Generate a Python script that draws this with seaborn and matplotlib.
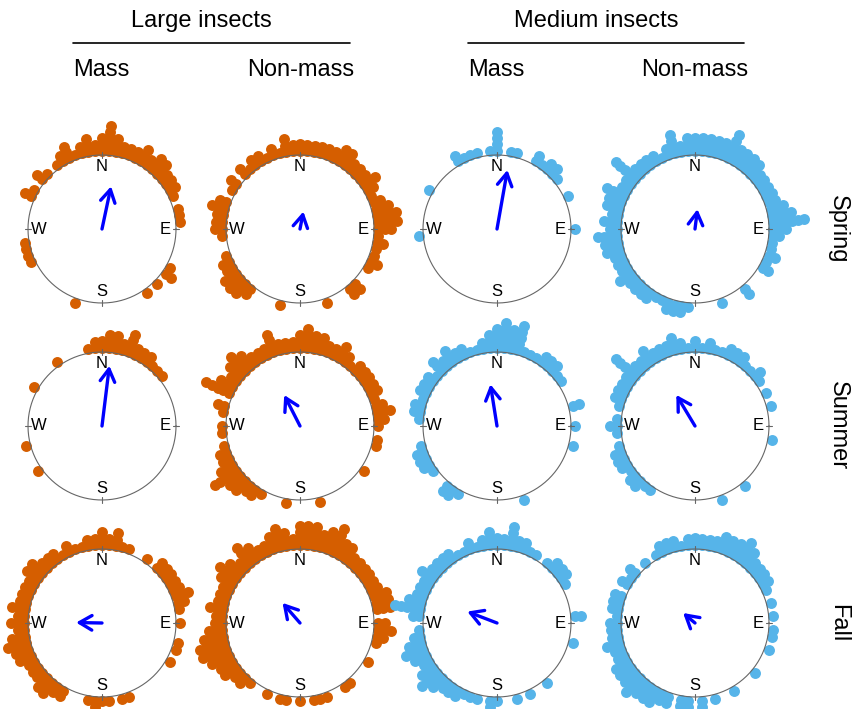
import numpy as np
import pandas as pd
import matplotlib
matplotlib.use("Agg")
import matplotlib.pyplot as plt
import seaborn as sns
from matplotlib.patches import FancyArrowPatch
from matplotlib.lines import Line2D

sns.set_theme(style="white")
plt.rcParams["font.family"] = ["Liberation Sans", "DejaVu Sans"]
plt.rcParams["text.color"] = "black"

# ---------------- data ----------------
groups = ["Large insects", "Medium insects"]
types = ["Mass", "Non-mass"]
seasons = ["Spring", "Summer", "Fall"]
compass = ["N", "E", "S", "W"]
compass_deg = [0, 90, 180, 270]

# Each panel: bin direction (degrees clockwise from North) and number of stacked points
LM_spring_deg = [0, 5, 10, 15, 20, 25, 30, 35, 40, 45, 50, 55, 60, 65, 75, 80, 85, 120, 125, 135, 145, 200,
                 245, 250, 255, 260, 295, 300, 310, 315, 325, 330, 335, 340, 345, 350, 355]
LM_spring_n = [3, 5, 3, 2, 2, 2, 3, 2, 3, 3, 2, 2, 2, 1, 1, 1, 1, 1, 2, 1, 1, 1,
               1, 1, 1, 1, 2, 1, 2, 1, 1, 2, 3, 1, 2, 3, 2]

LN_spring_deg = [350, 355, 0, 5, 10, 15, 20, 25, 30, 35, 40, 45, 50, 55, 60, 65, 70, 75, 80, 85, 90, 95, 100,
                 105, 110, 115, 120, 135, 140, 160, 195, 220, 225, 230, 235, 240, 245, 250, 265, 270, 275,
                 280, 285, 290, 300, 305, 315, 320, 325, 330, 335, 340, 345]
LN_spring_n = [3, 2, 2, 2, 2, 2, 2, 2, 3, 3, 2, 2, 2, 3, 2, 1, 2, 3, 4, 4, 3, 1, 2,
               1, 1, 2, 1, 2, 2, 1, 1, 2, 3, 3, 3, 2, 2, 1, 1, 2, 2,
               2, 3, 2, 1, 2, 2, 1, 2, 2, 1, 2, 1]

MM_spring_deg = [0, 10, 15, 30, 35, 40, 45, 50, 65, 90, 265, 300, 330, 335, 340, 345, 355]
MM_spring_n = [4, 1, 1, 2, 1, 2, 2, 1, 1, 1, 1, 1, 2, 1, 1, 1, 1]

MN_spring_deg = [350, 355, 0, 5, 10, 15, 20, 25, 30, 35, 40, 45, 50, 55, 60, 65, 70, 75, 80, 85, 90, 95,
                 100, 105, 110, 115, 120, 140, 160, 185, 190, 195, 200, 205, 210, 215, 220, 225, 230,
                 235, 240, 245, 250, 255, 260, 265, 270, 275, 280, 285, 290, 295, 300, 305, 310, 315,
                 320, 325, 330, 335, 340, 345]
MN_spring_n = [2, 3, 3, 3, 3, 3, 3, 5, 3, 3, 3, 3, 2, 2, 2, 2, 2, 3, 4, 6, 3, 2,
               1, 1, 2, 1, 2, 2, 1, 1, 2, 2, 2, 1, 1, 2, 2, 2, 2,
               3, 2, 2, 2, 3, 3, 4, 2, 3, 2, 3, 3, 4, 2, 2, 5, 2,
               2, 2, 2, 1, 2, 4]

LM_summer_deg = [350, 355, 0, 5, 10, 15, 20, 25, 30, 35, 40, 45, 50, 235, 255, 300, 325]
LM_summer_n = [1, 2, 2, 3, 3, 2, 4, 2, 2, 2, 1, 1, 1, 1, 1, 1, 1]

LN_summer_deg = [340, 345, 350, 355, 0, 5, 10, 15, 20, 25, 30, 35, 40, 45, 50, 55, 60, 65, 70, 75, 80, 85,
                 90, 100, 105, 125, 165, 190, 210, 215, 220, 225, 230, 235, 240, 245, 250, 255, 265,
                 270, 280, 285, 295, 300, 305, 310, 315, 320, 325, 330, 335]
LN_summer_n = [4, 2, 2, 2, 3, 4, 3, 3, 2, 2, 3, 2, 1, 2, 2, 2, 2, 2, 1, 2, 3, 2,
               1, 1, 1, 1, 1, 1, 1, 2, 2, 3, 3, 5, 3, 2, 2, 1, 1,
               1, 1, 2, 5, 3, 2, 3, 4, 3, 2, 2, 2]

MM_summer_deg = [345, 350, 355, 0, 5, 10, 15, 20, 25, 30, 35, 40, 45, 50, 55, 75, 90, 105, 160, 210, 215,
                 220, 235, 240, 245, 250, 255, 275, 280, 285, 290, 295, 300, 305, 310, 315, 320, 325,
                 330, 335, 340]
MM_summer_n = [1, 2, 3, 4, 5, 4, 5, 1, 1, 1, 2, 2, 2, 1, 1, 2, 1, 1, 1, 1, 2,
               2, 1, 2, 2, 2, 1, 1, 2, 2, 1, 2, 2, 2, 1, 3, 2, 3,
               2, 2, 1]

MN_summer_deg = [320, 325, 330, 335, 340, 345, 350, 355, 0, 5, 10, 15, 20, 25, 30, 35, 40, 45, 50, 55, 65,
                 75, 100, 140, 160, 215, 220, 225, 230, 235, 240, 245, 250, 255, 265, 270, 275, 285,
                 290, 295, 300, 305, 310, 315]
MN_summer_n = [2, 3, 2, 2, 2, 3, 2, 1, 2, 1, 2, 1, 1, 2, 2, 2, 1, 1, 2, 1, 1,
               1, 1, 1, 1, 1, 1, 2, 2, 1, 2, 2, 2, 1, 1, 2, 1, 1,
               2, 2, 2, 2, 5, 2]

LM_fall_deg = [335, 340, 345, 350, 355, 0, 5, 10, 15, 20, 35, 45, 50, 55, 60, 65, 70, 75, 80, 90, 105, 110,
               120, 160, 165, 175, 180, 185, 190, 210, 215, 220, 225, 230, 235, 240, 245, 250, 255, 260,
               265, 270, 275, 280, 285, 290, 295, 300, 305, 310, 315, 320, 325, 330]
LM_fall_n = [2, 1, 1, 2, 2, 3, 2, 3, 1, 1, 1, 2, 2, 2, 2, 2, 3, 2, 1, 1, 1, 1,
             1, 1, 1, 1, 1, 2, 1, 2, 2, 3, 3, 2, 2, 2, 3, 3, 4, 3,
             2, 3, 2, 3, 2, 2, 2, 2, 3, 3, 2, 2, 2, 1]

LN_fall_deg = [340, 345, 350, 355, 0, 5, 10, 15, 20, 25, 30, 35, 40, 45, 50, 55, 60, 65, 70, 75, 80, 90,
               95, 100, 105, 120, 140, 145, 160, 165, 170, 180, 190, 195, 205, 220, 225, 230, 235, 240,
               245, 250, 255, 260, 265, 270, 275, 280, 285, 290, 295, 300, 305, 310, 315, 320, 325,
               330, 335]
LN_fall_n = [3, 4, 3, 2, 4, 4, 4, 3, 4, 5, 3, 3, 2, 2, 2, 2, 2, 2, 3, 3, 3, 2,
             3, 2, 1, 1, 1, 1, 1, 1, 1, 1, 1, 1, 1, 1, 2, 2, 3, 3,
             4, 5, 5, 4, 3, 2, 2, 3, 2, 2, 2, 3, 4, 3, 2, 4, 3,
             2, 2]

MM_fall_deg = [335, 340, 345, 350, 355, 0, 5, 10, 15, 20, 25, 30, 40, 45, 50, 55, 60, 85, 105, 140, 155,
               165, 180, 185, 195, 200, 205, 210, 215, 220, 225, 230, 235, 240, 245, 250, 255, 260, 265,
               275, 280, 285, 290, 295, 300, 305, 310, 315, 320, 325, 330]
MM_fall_n = [1, 2, 1, 2, 3, 2, 2, 4, 2, 2, 1, 1, 1, 2, 2, 2, 1, 2, 1, 1, 1,
             1, 1, 2, 1, 1, 1, 2, 2, 2, 3, 4, 3, 2, 3, 4, 3, 2, 1,
             2, 5, 3, 2, 2, 2, 3, 2, 2, 2, 2, 1]

MN_fall_deg = [345, 350, 355, 0, 5, 10, 15, 20, 25, 30, 35, 40, 45, 50, 55, 60, 65, 75, 85, 95, 100, 110,
               130, 150, 165, 175, 185, 190, 200, 205, 210, 215, 220, 225, 230, 235, 240, 245, 250, 255,
               260, 265, 270, 275, 280, 285, 290, 300, 305, 310, 320, 330, 335, 340]
MN_fall_n = [2, 1, 2, 2, 2, 2, 2, 3, 3, 3, 4, 3, 2, 2, 2, 2, 1, 1, 1, 1, 1, 1,
             1, 1, 1, 2, 2, 2, 2, 2, 3, 3, 3, 4, 3, 3, 3, 2, 2, 3,
             2, 2, 2, 1, 2, 2, 2, 2, 1, 2, 1, 1, 2, 2]

# mean resultant vectors (direction in degrees from North, length relative to circle radius)
spring_arrow_dir = [12, 11, 10, 7]
spring_arrow_len = [0.59, 0.24, 0.81, 0.27]
summer_arrow_dir = [7, 333, 351, 329]
summer_arrow_len = [0.82, 0.47, 0.57, 0.49]
fall_arrow_dir = [271, 319, 291, 310]
fall_arrow_len = [0.35, 0.36, 0.43, 0.21]

panel_deg = [[LM_spring_deg, LN_spring_deg, MM_spring_deg, MN_spring_deg],
             [LM_summer_deg, LN_summer_deg, MM_summer_deg, MN_summer_deg],
             [LM_fall_deg, LN_fall_deg, MM_fall_deg, MN_fall_deg]]
panel_n = [[LM_spring_n, LN_spring_n, MM_spring_n, MN_spring_n],
           [LM_summer_n, LN_summer_n, MM_summer_n, MN_summer_n],
           [LM_fall_n, LN_fall_n, MM_fall_n, MN_fall_n]]
arrow_dir = [spring_arrow_dir, summer_arrow_dir, fall_arrow_dir]
arrow_len = [spring_arrow_len, summer_arrow_len, fall_arrow_len]

# ---------------- layout ----------------
W, H = 857, 709
fig = plt.figure(figsize=(W / 100, H / 100), dpi=100)
col_cx = [102, 300, 497, 695]
row_cy = [229, 426, 623]
R_PX = 74.0
HALF = 100.0
lim = HALF / R_PX
colors = ["#D55E00", "#D55E00", "#56B4E9", "#56B4E9"]

for i in range(3):
    for j in range(4):
        cx, cy = col_cx[j], row_cy[i]
        ax = fig.add_axes([(cx - HALF) / W, (H - cy - HALF) / H, 2 * HALF / W, 2 * HALF / H])
        deg = np.array(panel_deg[i][j], dtype=float)
        n = np.array(panel_n[i][j], dtype=int)
        th = np.radians(np.repeat(deg, n))
        k = np.concatenate([np.arange(c) for c in n])
        r = 1.06 + 0.085 * k
        df = pd.DataFrame({"x": r * np.sin(th), "y": r * np.cos(th)})
        sns.scatterplot(data=df, x="x", y="y", ax=ax, color=colors[j], s=62,
                        linewidth=0, legend=False, clip_on=False, zorder=2)
        t = np.linspace(0, 2 * np.pi, 400)
        ax.plot(np.cos(t), np.sin(t), color="#666666", lw=0.8, zorder=3)
        for lab, a in zip(compass, compass_deg):
            ar = np.radians(a)
            ax.plot([0.96 * np.sin(ar), 1.04 * np.sin(ar)], [0.96 * np.cos(ar), 1.04 * np.cos(ar)],
                    color="#666666", lw=0.8, zorder=3)
            ax.text(0.85 * np.sin(ar), 0.85 * np.cos(ar), lab, ha="center", va="center",
                    fontsize=12, color="black", zorder=4)
        ad = np.radians(arrow_dir[i][j])
        L = arrow_len[i][j]
        arr = FancyArrowPatch((0, 0), (L * np.sin(ad), L * np.cos(ad)),
                              arrowstyle="->,head_length=0.6,head_width=0.35",
                              mutation_scale=15, lw=2.4, color="#0000FF",
                              shrinkA=0, shrinkB=0, zorder=5)
        ax.add_patch(arr)
        ax.set_xlim(-lim, lim)
        ax.set_ylim(-lim, lim)
        ax.set_axis_off()

# headers
line_x = [(73, 350), (468, 744)]
title_cx = [201, 596]
for g in range(2):
    fig.text(title_cx[g] / W, 1 - 21 / H, groups[g], ha="center", va="center", fontsize=17, color="black")
    fig.add_artist(Line2D([line_x[g][0] / W, line_x[g][1] / W], [1 - 43 / H, 1 - 43 / H],
                          color="black", lw=1.2))
    fig.text(line_x[g][0] / W, 1 - 70 / H, types[0], ha="left", va="center", fontsize=17, color="black")
    fig.text((line_x[g][1] + 4) / W, 1 - 70 / H, types[1], ha="right", va="center", fontsize=17,
             color="black")

for i in range(3):
    fig.text(838 / W, 1 - row_cy[i] / H, seasons[i], rotation=-90, ha="center", va="center",
             fontsize=17, color="black")

fig.savefig("out.png", dpi=100)
